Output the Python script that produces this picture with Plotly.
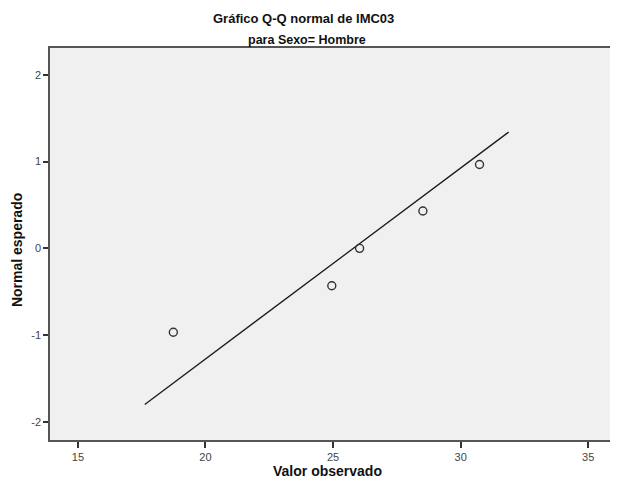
import plotly.graph_objects as go

# Data
observed = [18.74, 24.95, 26.04, 28.52, 30.74]
expected_normal = [-0.967, -0.431, 0.0, 0.431, 0.967]
line_x = [17.62, 31.88]
line_y = [-1.80, 1.34]
x_ticks = [15, 20, 25, 30, 35]
y_ticks = [-2, -1, 0, 1, 2]
y_tick_text = ["-2", "-1", "0", "1", "2"]

FONT = "Liberation Sans, Arial, sans-serif"
NARROW = "Liberation Sans Narrow, Arial Narrow, Liberation Sans, sans-serif"

# page body has an 8px margin; figure laid out to fit the 618x488 window
OFF = 8
W, H = 618 - OFF, 488 - OFF
L, T, R, B = 50 - OFF, 48 - OFF, 1, 48
PW, PH = W - L - R, H - T - B


def px(X):
    return (X - OFF - L) / PW


def py(Y):
    return (T + PH - (Y - OFF)) / PH


fig = go.Figure()
fig.add_trace(go.Scatter(
    x=line_x, y=line_y, mode="lines",
    line=dict(color="#1a1a1a", width=1.3), hoverinfo="skip", showlegend=False))
fig.add_trace(go.Scatter(
    x=observed, y=expected_normal, mode="markers",
    marker=dict(symbol="circle-open", size=8, color="#333333", line=dict(width=1.4)),
    showlegend=False))

annots = [
    dict(text="<b>Gráfico Q-Q normal de IMC03</b>", x=px(304), y=py(18),
         font=dict(size=13, color="#111111", family=NARROW)),
    dict(text="<b>para Sexo= Hombre</b>", x=px(308), y=py(40),
         font=dict(size=12.5, color="#111111", family=NARROW)),
    dict(text="<b>Valor observado</b>", x=px(328), y=py(471),
         font=dict(size=14, color="#111111", family=NARROW)),
    dict(text="<b>Normal esperado</b>", x=px(17), y=py(250), textangle=-90,
         font=dict(size=14, color="#111111", family=NARROW)),
]
for a in annots:
    a.update(xref="paper", yref="paper", xanchor="center", yanchor="middle", showarrow=False)

fig.update_layout(
    width=W, height=H,
    margin=dict(l=L, r=R, t=T, b=B),
    paper_bgcolor="white",
    plot_bgcolor="#f0f0f0",
    font=dict(family=FONT, color="#222222"),
    annotations=annots,
    xaxis=dict(range=[13.906, 36.05], tickvals=x_ticks, ticks="outside", ticklen=6,
               tickcolor="#333333", tickwidth=1.5, showgrid=False, zeroline=False,
               showline=True, linecolor="#555555", linewidth=1.5, mirror=True,
               tickfont=dict(size=11, color="#444444")),
    yaxis=dict(range=[-2.21, 2.31], tickvals=y_ticks, ticktext=y_tick_text,
               ticks="outside", ticklen=5,
               tickcolor="#333333", tickwidth=1.5, showgrid=False, zeroline=False,
               showline=True, linecolor="#555555", linewidth=1.5, mirror=True,
               tickfont=dict(size=11, color="#444444")),
)

fig.write_html("out.html")
